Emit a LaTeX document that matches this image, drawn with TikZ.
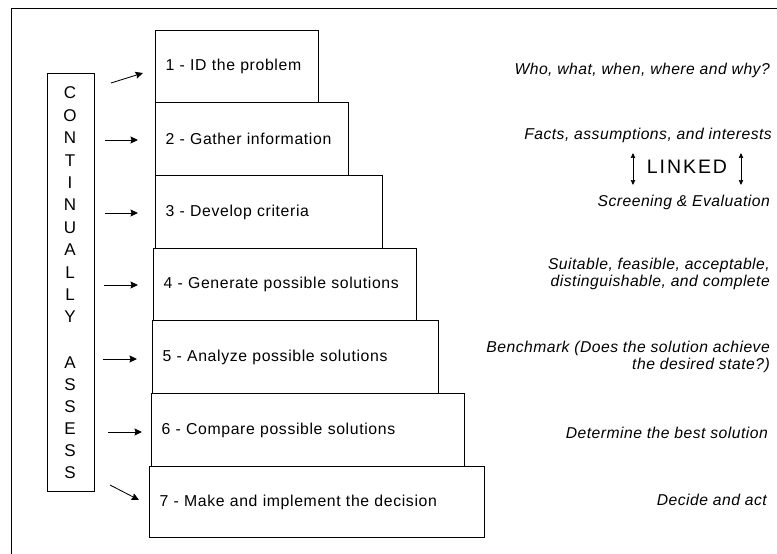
\documentclass[tikz,border=0pt]{standalone}
\usepackage{fontspec}
\setmainfont{Liberation Sans}
\newfontfamily\boxfam{Liberation Sans}[LetterSpace=4]
\newfontfamily\notefam{Liberation Sans}[LetterSpace=3]
\newfontfamily\linkfam{Liberation Sans}[LetterSpace=10]
\newcommand\boxfont{\boxfam\fontsize{15.8}{18}\selectfont}
\newcommand\notefont{\notefam\itshape\fontsize{15.7}{17}\selectfont}
\newcommand\linkfont{\linkfam\fontsize{19.5}{22}\selectfont}
\newcommand\letfont{\fontsize{17}{18}\selectfont}
\usetikzlibrary{arrows.meta}
\begin{document}
\begin{tikzpicture}[x=1pt,y=-1pt,
  stepbox/.style={draw, line width=1.1pt, anchor=north west, inner xsep=10pt, inner ysep=0pt,
    align=left, font=\boxfont, minimum height=72pt},
  arr/.style={-{Stealth[length=7.5pt,width=7pt,inset=1pt]}, line width=0.85pt},
  dbl/.style={{Stealth[length=5pt,width=4.5pt,inset=0.5pt]}-{Stealth[length=5pt,width=4.5pt,inset=0.5pt]}, line width=0.7pt},
  note/.style={anchor=east, align=right, inner sep=0pt, font=\notefont},
  letter/.style={inner sep=0pt, font=\letfont},
]
\useasboundingbox (0,0) rectangle (777,554);
% frame (top and left edges)
\draw[line width=1pt] (777,8) -- (11,8) -- (11,554);

% step boxes
\node[stepbox, minimum width=163pt, text width=143pt] (b1) at (155,30) {1 - ID the problem};
\node[stepbox, minimum width=193pt, text width=173pt, minimum height=73pt] (b2) at (155,102) {2 - Gather information};
\node[stepbox, minimum width=227pt, text width=207pt, minimum height=73pt] (b3) at (155,175) {3 - Develop criteria};
\node[stepbox, minimum width=263pt, text width=243pt] (b4) at (153,248) {4 - Generate possible solutions};
\node[stepbox, minimum width=286pt, text width=266pt, minimum height=73pt] (b5) at (152,320) {5 - Analyze possible solutions};
\node[stepbox, minimum width=313pt, text width=293pt, minimum height=73pt] (b6) at (151,393) {6 - Compare possible solutions};
\node[stepbox, minimum width=335pt, text width=315pt, minimum height=71pt] (b7) at (149,466) {7 - Make and implement the decision};

% CONTINUALLY ASSESS column
\node[draw, line width=1.1pt, anchor=north west, minimum width=47pt, minimum height=418pt, inner sep=0pt] (cbox) at (47,73) {};
\foreach \ch [count=\i from 0] in {C,O,N,T,I,N,U,A,L,L,Y}
  \node[letter] (c\i) at (70,93+22.4*\i) {\ch};
\foreach \ch [count=\i from 0] in {A,S,S,E,S,S}
  \node[letter] (s\i) at (70,363+22*\i) {\ch};

% arrows
\coordinate (a1s) at (111,83);
\coordinate (a1e) at (143,73);
\draw[arr] (a1s) -- (a1e);
\coordinate (a2s) at (105,140);
\draw[arr, shorten >=17pt] (a2s) -- (a2s -| b2.west);
\coordinate (a3s) at (105,213);
\draw[arr, shorten >=17pt] (a3s) -- (a3s -| b3.west);
\coordinate (a4s) at (104,285);
\draw[arr, shorten >=15pt] (a4s) -- (a4s -| b4.west);
\coordinate (a5s) at (103,359);
\draw[arr, shorten >=15pt] (a5s) -- (a5s -| b5.west);
\coordinate (a6s) at (108,432);
\draw[arr, shorten >=9pt] (a6s) -- (a6s -| b6.west);
\coordinate (a7s) at (110,485);
\coordinate (a7e) at (139,500);
\draw[arr] (a7s) -- (a7e);

% right-hand notes
\node[note] (n1) at (770,70) {Who, what, when, where and why?};
\node[note] (n2) at (772,135) {Facts, assumptions, and interests};
\node[inner sep=0pt, font=\linkfont] (lk) at (687,167) {LINKED};
\coordinate (lkat) at (633,153);
\coordinate (lkab) at (633,185);
\coordinate (lkbt) at (741,153);
\coordinate (lkbb) at (741,185);
\draw[dbl] (lkat) -- (lkab);
\draw[dbl] (lkbt) -- (lkbb);
\node[note] (n3) at (770,202) {Screening \& Evaluation};
\node[note] (n4) at (770,273.5) {Suitable, feasible, acceptable,\\distinguishable, and complete};
\node[note] (n5) at (770,356.5) {Benchmark (Does the solution achieve\\the desired state?)};
\node[note] (n6) at (768,433) {Determine the best solution};
\node[note] (n7) at (767,500) {Decide and act};
\end{tikzpicture}
\end{document}
